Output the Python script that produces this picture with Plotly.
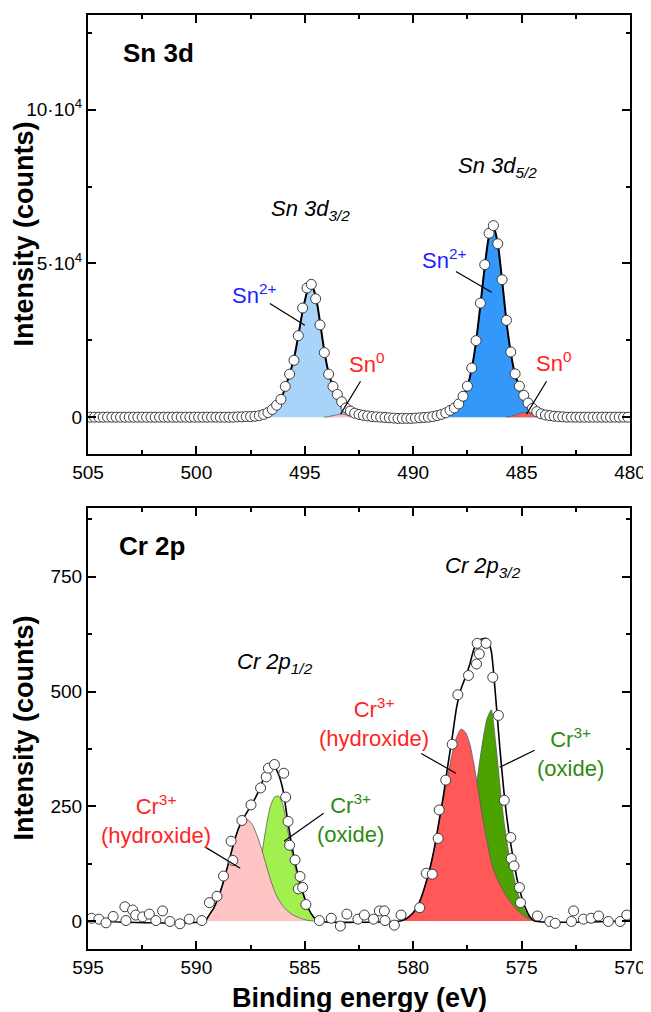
import plotly.graph_objects as go

FONT = "Liberation Sans, Arial, sans-serif"

# ---------------- Sn 3d (intensity in units of 10^4 counts) ----------------
sn_energy = [
    504.9, 504.7, 504.5, 504.3, 504.1, 503.9, 503.7, 503.5, 503.3, 503.1,
    502.9, 502.7, 502.5, 502.3, 502.1, 501.9, 501.7, 501.5, 501.3, 501.1,
    500.9, 500.7, 500.5, 500.3, 500.1, 499.9, 499.7, 499.5, 499.3, 499.1,
    498.9, 498.7, 498.5, 498.3, 498.1, 497.9, 497.7, 497.5, 497.3, 497.1,
    496.9, 496.7, 496.5, 496.3, 496.1, 495.9, 495.7, 495.5, 495.3, 495.1,
    494.9, 494.7, 494.5, 494.3, 494.1, 493.9, 493.7, 493.5, 493.3, 493.1,
    492.9, 492.7, 492.5, 492.3, 492.1, 491.9, 491.7, 491.5, 491.3, 491.1,
    490.9, 490.7, 490.5, 490.3, 490.1, 489.9, 489.7, 489.5, 489.3, 489.1,
    488.9, 488.7, 488.5, 488.3, 488.1, 487.9, 487.7, 487.5, 487.3, 487.1,
    486.9, 486.7, 486.5, 486.3, 486.1, 485.9, 485.7, 485.5, 485.3, 485.1,
    484.9, 484.7, 484.5, 484.3, 484.1, 483.9, 483.7, 483.5, 483.3, 483.1,
    482.9, 482.7, 482.5, 482.3, 482.1, 481.9, 481.7, 481.5, 481.3, 481.1,
    480.9, 480.7, 480.5, 480.3, 480.1]
sn_counts = [
    0, 0, 0, 0, 0, 0, 0, 0, 0, 0,
    0, 0, 0, 0, 0, 0, 0, 0, 0, 0,
    0, 0, 0, 0, 0, 0, 0, 0, 0, 0,
    0, 0, 0, 0, 0.01, 0.01, 0.02, 0.02, 0.03, 0.05,
    0.09, 0.15, 0.25, 0.39, 0.58, 1.0, 1.4, 1.85, 2.65, 3.55,
    4.2, 4.32, 3.85, 3.0, 2.1, 1.4, 1.0, 0.74, 0.5, 0.3,
    0.2, 0.13, 0.09, 0.06, 0.04, 0.02, 0.01, 0.0, -0.01, -0.02,
    -0.03, -0.04, -0.04, -0.04, -0.04, -0.03, -0.02, -0.01, 0.0, 0.02,
    0.05, 0.09, 0.14, 0.22, 0.30, 0.43, 0.68, 1.01, 1.6, 2.49,
    3.71, 4.96, 5.98, 6.23, 5.64, 4.47, 3.15, 2.12, 1.41, 1.01,
    0.71, 0.46, 0.29, 0.18, 0.11, 0.07, 0.05, 0.03, 0.02, 0.01,
    0, 0, 0, 0, 0, 0, 0, 0, 0, 0,
    0, 0, 0, 0, 0]

# fitted components (Sn 3d)
sn2_32_e = [496.9, 496.7, 496.5, 496.3, 496.1, 495.9, 495.7, 495.5, 495.3, 495.1,
            494.9, 494.7, 494.5, 494.3, 494.1, 493.9, 493.7, 493.5, 493.3, 493.1,
            492.9, 492.7, 492.5]
sn2_32_i = [0.0, 0.12, 0.24, 0.38, 0.58, 0.97, 1.4, 1.9, 2.65, 3.45,
            4.05, 4.3, 3.95, 3.1, 2.15, 1.42, 0.95, 0.62, 0.4, 0.24,
            0.13, 0.06, 0.0]
sn0_32_e = [494.1, 493.9, 493.7, 493.5, 493.3, 493.1, 492.9, 492.7, 492.5]
sn0_32_i = [0.0, 0.02, 0.05, 0.08, 0.1, 0.08, 0.04, 0.01, 0.0]
sn2_52_e = [488.7, 488.5, 488.3, 488.1, 487.9, 487.7, 487.5, 487.3, 487.1, 486.9,
            486.7, 486.5, 486.3, 486.1, 485.9, 485.7, 485.5, 485.3, 485.1, 484.9,
            484.7, 484.5, 484.3, 484.1]
sn2_52_i = [0.0, 0.12, 0.2, 0.29, 0.42, 0.66, 1.0, 1.58, 2.45, 3.65,
            4.9, 5.9, 6.2, 5.65, 4.45, 3.12, 2.07, 1.32, 0.88, 0.55,
            0.3, 0.16, 0.07, 0.0]
sn0_52_e = [485.7, 485.5, 485.3, 485.1, 484.9, 484.7, 484.5, 484.3, 484.1, 483.9]
sn0_52_i = [0.0, 0.03, 0.07, 0.12, 0.15, 0.15, 0.11, 0.06, 0.02, 0.0]

sn_tickvals = [0, 5, 10]
sn_ticktext = ["0", "5·10<sup>4</sup>", "10·10<sup>4</sup>"]

# ---------------- Cr 2p (counts) ----------------
cr_energy = [
    594.83, 594.50, 594.17, 593.84, 593.30, 593.25, 592.94, 592.80, 592.48, 592.17,
    591.87, 591.56, 591.22, 590.76, 590.33, 589.75, 589.40, 589.05, 588.75, 588.40,
    588.32, 587.90, 587.48, 587.04, 586.78, 586.68, 586.40, 585.97, 585.88, 585.77,
    585.70, 585.45, 585.30, 585.22, 585.10, 584.95, 584.33, 583.78, 583.36, 583.06,
    582.55, 582.25, 581.83, 581.56, 581.33, 581.30, 580.87, 580.56, 579.70, 579.40,
    579.12, 578.85, 578.80, 578.50, 578.20, 577.94, 577.45, 577.08, 576.95, 577.05,
    576.64, 576.33, 576.07, 575.80, 575.50, 575.48, 575.35, 575.10, 575.05, 574.27,
    573.70, 573.45, 572.70, 572.60, 572.15, 571.80, 571.45, 571.00, 570.45, 570.15]
cr_counts = [
    6, 4, -4, 10, 31, 1, 24, 13, 9, 15,
    1, 22, -1, -6, 4, 1, 40, 54, 98, 174,
    132, 219, 253, 290, 314, 333, 341, 322, 270, 217,
    165, 133, 70, 97, 73, 36, 1, 6, -11, 15,
    4, 13, 4, 22, 22, 1, -9, 13, 29, 104,
    102, 180, 242, 307, 385, 493, 535, 560, 582, 605,
    605, 531, 448, 263, 182, 136, 120, 73, 40, 11,
    -1, -5, -1, 22, 4, 6, 11, -1, -1, 13]

cr_hyd12_e = [589.6, 589.4, 589.2, 589.0, 588.8, 588.6, 588.4, 588.2, 588.0, 587.8,
              587.6, 587.4, 587.2, 587.0, 586.8, 586.6, 586.4, 586.2, 586.0, 585.8,
              585.6, 585.4, 585.2, 585.0, 584.8, 584.6]
cr_hyd12_i = [0, 14, 28, 50, 78, 112, 148, 182, 208, 220,
              220, 208, 186, 158, 125, 93, 66, 46, 32, 22,
              15, 10, 6, 3, 1, 0]
cr_ox12_e = [588.0, 587.8, 587.6, 587.4, 587.2, 587.0, 586.8, 586.6, 586.4, 586.2,
             586.0, 585.8, 585.6, 585.4, 585.2, 585.0, 584.8, 584.6, 584.4]
cr_ox12_i = [0, 6, 22, 50, 90, 140, 200, 248, 270, 272,
             252, 200, 150, 108, 74, 46, 23, 9, 0]
cr_hyd32_e = [580.6, 580.4, 580.2, 580.0, 579.8, 579.6, 579.4, 579.2, 579.0, 578.8,
              578.6, 578.4, 578.2, 578.0, 577.8, 577.6, 577.4, 577.2, 577.0, 576.8,
              576.6, 576.4, 576.2, 576.0, 575.8, 575.6, 575.4, 575.2, 575.0, 574.8,
              574.6, 574.4]
cr_hyd32_i = [0, 3, 9, 18, 32, 55, 85, 120, 165, 215,
              265, 318, 365, 400, 418, 412, 388, 342, 285, 225,
              175, 128, 100, 80, 62, 47, 35, 24, 15, 8,
              3, 0]
cr_ox32_e = [579.0, 578.8, 578.6, 578.4, 578.2, 578.0, 577.8, 577.6, 577.4, 577.2,
             577.0, 576.8, 576.6, 576.4, 576.2, 576.0, 575.8, 575.6, 575.4, 575.2,
             575.0, 574.8, 574.6, 574.4]
cr_ox32_i = [0, 5, 10, 22, 35, 65, 87, 118, 170, 250,
             325, 390, 440, 460, 390, 295, 212, 150, 105, 65,
             38, 18, 5, 0]

cr_tickvals = [0, 250, 500, 750]


def envelope(components, ends):
    total = {}
    for xs, ys in components:
        for x, y in zip(xs, ys):
            k = round(x, 2)
            total[k] = total.get(k, 0) + y
    for e in ends:
        total.setdefault(round(e, 2), 0)
    keys = sorted(total.keys(), reverse=True)
    return keys, [total[k] for k in keys]


fig = go.Figure()

COMP_LINE = dict(color="#5a5a5a", width=0.8, shape="spline", smoothing=0.6)


def add_comp(xs, ys, color, xa, ya):
    fig.add_trace(go.Scatter(x=xs, y=ys, mode="lines", line=COMP_LINE,
                             fill="tozeroy", fillcolor=color,
                             xaxis=xa, yaxis=ya, hoverinfo="skip", showlegend=False))


# top panel components
add_comp(sn2_32_e, sn2_32_i, "#a9d4fa", "x", "y")
add_comp(sn0_32_e, sn0_32_i, "#f8c0c4", "x", "y")
add_comp(sn2_52_e, sn2_52_i, "#3498fb", "x", "y")
add_comp(sn0_52_e, sn0_52_i, "#f25a5a", "x", "y")
ex, ey = envelope([(sn2_32_e, sn2_32_i), (sn0_32_e, sn0_32_i),
                   (sn2_52_e, sn2_52_i), (sn0_52_e, sn0_52_i)], [505, 480])
fig.add_trace(go.Scatter(x=ex, y=ey, mode="lines",
                         line=dict(color="black", width=2, shape="spline", smoothing=0.6),
                         xaxis="x", yaxis="y", hoverinfo="skip", showlegend=False))
fig.add_trace(go.Scatter(x=sn_energy, y=sn_counts, mode="markers",
                         marker=dict(symbol="circle", size=10, color="white",
                                     line=dict(color="#3a3a3a", width=1)),
                         xaxis="x", yaxis="y", showlegend=False))

# bottom panel components
add_comp(cr_ox12_e, cr_ox12_i, "#a2f04f", "x2", "y2")
add_comp(cr_hyd12_e, cr_hyd12_i, "#ffc4c4", "x2", "y2")
add_comp(cr_ox32_e, cr_ox32_i, "#4ca300", "x2", "y2")
add_comp(cr_hyd32_e, cr_hyd32_i, "#ff5858", "x2", "y2")
ex2, ey2 = envelope([(cr_hyd12_e, cr_hyd12_i), (cr_ox12_e, cr_ox12_i),
                     (cr_hyd32_e, cr_hyd32_i), (cr_ox32_e, cr_ox32_i)], [595, 570])
fig.add_trace(go.Scatter(x=ex2, y=ey2, mode="lines",
                         line=dict(color="black", width=1.6, shape="spline", smoothing=0.6),
                         xaxis="x2", yaxis="y2", hoverinfo="skip", showlegend=False))
fig.add_trace(go.Scatter(x=cr_energy, y=cr_counts, mode="markers",
                         marker=dict(symbol="circle", size=10, color="white",
                                     line=dict(color="#3a3a3a", width=1)),
                         xaxis="x2", yaxis="y2", showlegend=False))

TOP_DOM = [0.5299, 1.0]
BOT_DOM = [0.0, 0.4722]

axis_common = dict(showline=True, linewidth=2, linecolor="black", mirror="ticks",
                   ticks="inside", ticklen=8, tickwidth=1.5, tickcolor="black",
                   showgrid=False, zeroline=False,
                   tickfont=dict(family=FONT, size=19, color="black"))

# page body has an 8px margin, so the figure is 8px smaller than the window
fig.update_layout(
    width=643, height=1004,
    margin=dict(l=80, r=18, t=5, b=63),
    paper_bgcolor="white", plot_bgcolor="white",
    showlegend=False,
    xaxis=dict(domain=[0, 1], anchor="y", range=[505, 480], tick0=480, dtick=5,
               minor=dict(dtick=2.5, tick0=480, ticks="inside", ticklen=4,
                          tickwidth=1.5, tickcolor="black"), **axis_common),
    yaxis=dict(domain=TOP_DOM, anchor="x", range=[-1.2, 13.08],
               tickmode="array", tickvals=sn_tickvals, ticktext=sn_ticktext,
               minor=dict(tickvals=[2.5, 7.5, 12.5], ticks="inside", ticklen=4,
                          tickwidth=1.5, tickcolor="black"), **axis_common),
    xaxis2=dict(domain=[0, 1], anchor="y2", range=[595, 570], tick0=570, dtick=5,
                minor=dict(dtick=2.5, tick0=570, ticks="inside", ticklen=4,
                           tickwidth=1.5, tickcolor="black"), **axis_common),
    yaxis2=dict(domain=BOT_DOM, anchor="x2", range=[-61, 900],
                tickmode="array", tickvals=cr_tickvals,
                minor=dict(tickvals=[125, 375, 625, 875], ticks="inside", ticklen=4,
                           tickwidth=1.5, tickcolor="black"), **axis_common),
)

RED = "#ff2424"
BLUE = "#1f1fff"
GREEN = "#2f8a0f"


def ann(text, x, y, xref, yref, size=20, color="black", xanchor="center"):
    fig.add_annotation(text=text, x=x, y=y, xref=xref, yref=yref, showarrow=False,
                       xanchor=xanchor, yanchor="middle",
                       font=dict(family=FONT, size=size, color=color))


# top panel text
ann("<b>Sn 3d</b>", 503.5, 11.85, "x", "y", size=26, xanchor="left")
ann("<i>Sn 3d<sub>3/2</sub></i>", 494.75, 6.75, "x", "y", size=22)
ann("<i>Sn 3d<sub>5/2</sub></i>", 486.1, 8.15, "x", "y", size=22)
ann("Sn<sup>2+</sup>", 497.34, 3.99, "x", "y", size=22, color=BLUE)
ann("Sn<sup>2+</sup>", 488.58, 5.13, "x", "y", size=22, color=BLUE)
ann("Sn<sup>0</sup>", 492.16, 1.75, "x", "y", size=22, color=RED)
ann("Sn<sup>0</sup>", 483.53, 1.79, "x", "y", size=22, color=RED)

# bottom panel text
ann("<b>Cr 2p</b>", 593.67, 817, "x2", "y2", size=26, xanchor="left")
ann("<i>Cr 2p<sub>3/2</sub></i>", 576.79, 772, "x2", "y2", size=22)
ann("<i>Cr 2p<sub>1/2</sub></i>", 586.38, 562, "x2", "y2", size=22)
ann("Cr<sup>3+</sup><br>(hydroxide)", 581.79, 433, "x2", "y2", size=22, color=RED)
ann("Cr<sup>3+</sup><br>(oxide)", 572.75, 367, "x2", "y2", size=22, color=GREEN)
ann("Cr<sup>3+</sup><br>(hydroxide)", 591.88, 222, "x2", "y2", size=22, color=RED)
ann("Cr<sup>3+</sup><br>(oxide)", 582.89, 224, "x2", "y2", size=22, color=GREEN)

# axis titles
fig.add_annotation(text="<b>Intensity (counts)</b>", textangle=-90, xref="paper", yref="paper",
                   x=0, y=(TOP_DOM[0] + TOP_DOM[1]) / 2, xanchor="center", yanchor="middle",
                   xshift=-64, showarrow=False, font=dict(family=FONT, size=27, color="black"))
fig.add_annotation(text="<b>Intensity (counts)</b>", textangle=-90, xref="paper", yref="paper",
                   x=0, y=(BOT_DOM[0] + BOT_DOM[1]) / 2, xanchor="center", yanchor="middle",
                   xshift=-64, showarrow=False, font=dict(family=FONT, size=27, color="black"))
fig.add_annotation(text="<b>Binding energy (eV)</b>", xref="paper", yref="paper",
                   x=0.5, y=0, xanchor="center", yanchor="middle", yshift=-49,
                   showarrow=False, font=dict(family=FONT, size=27, color="black"))

# pointer lines
pointers = [
    ("x", "y", 496.61, 3.70, 495.0, 2.99),
    ("x", "y", 492.43, 1.17, 493.35, 0.10),
    ("x", "y", 488.03, 4.74, 486.38, 4.06),
    ("x", "y", 483.85, 1.17, 484.77, 0.10),
    ("x2", "y2", 579.63, 365, 578.03, 322),
    ("x2", "y2", 574.40, 372, 576.01, 335),
    ("x2", "y2", 589.59, 161, 587.98, 115),
    ("x2", "y2", 584.13, 235, 585.96, 174),
]
for xr, yr, x0, y0, x1, y1 in pointers:
    fig.add_shape(type="line", xref=xr, yref=yr, x0=x0, y0=y0, x1=x1, y1=y1,
                  line=dict(color="black", width=1.2))

fig.write_html("out.html")
